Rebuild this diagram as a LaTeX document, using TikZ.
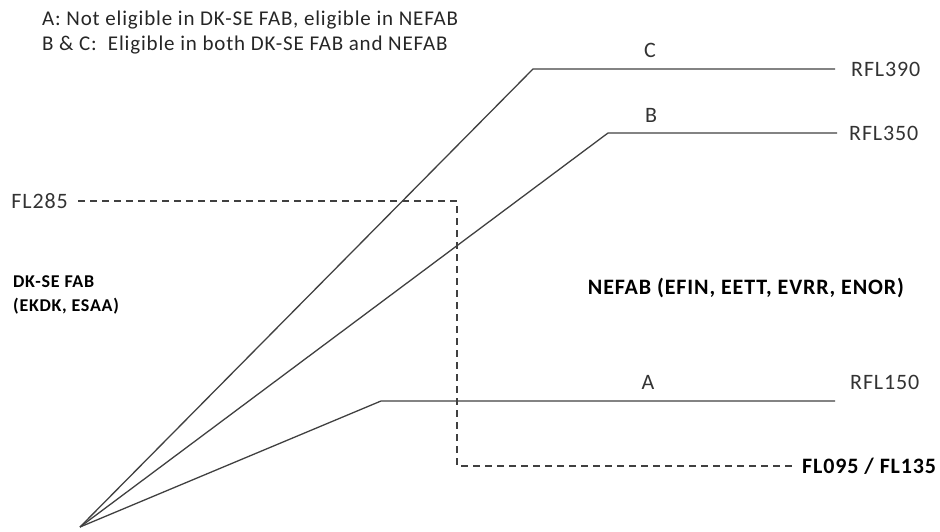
\documentclass[tikz,border=0pt]{standalone}
\usepackage{fontspec}
\setmainfont{Carlito}[LetterSpace=4]
\usetikzlibrary{positioning}

\tikzset{
    route/.style={draw=black!75, line width=1.3pt},
    level/.style={draw=black!75, line width=1.3pt, dash pattern=on 7pt off 5pt},
    lbl/.style={font=\fontsize{22}{26}\selectfont, text=black!80, inner sep=1pt},
    bold/.style={lbl, font=\fontsize{22}{26}\selectfont\bfseries, text=black}
}

\begin{document}
\begin{tikzpicture}[x=1pt, y=-1pt]
    % 1. Keret
    \useasboundingbox (0,0) rectangle (940,531);

    % 2. Pontok (kiindulás, töréspontok, végpontok)
    \coordinate (o) at (80,527);
    \coordinate (c-knee) at (533,69);
    \coordinate (c-end) at (835,69);
    \coordinate (b-knee) at (608,133);
    \coordinate (b-end) at (837,133);
    \coordinate (a-knee) at (381,401);
    \coordinate (a-end) at (835,401);
    \coordinate (fl-start) at (78,201);
    \coordinate (fl-turn) at (457,201);
    \coordinate (fl-low) at (457,466);
    \coordinate (fl-end) at (795,466);

    % 3. Útvonalak
    \draw[route] (o) -- (c-knee) -- (c-end);
    \draw[route] (o) -- (b-knee) -- (b-end);
    \draw[route] (o) -- (a-knee) -- (a-end);
    \draw[level] (fl-start) -- (fl-turn) -- (fl-low) -- (fl-end);

    % 4. Feliratok
    \node[lbl, anchor=west, font=\fontsize{21}{25}\selectfont, text=black!85] (legend-a) at (41,20) {A: Not eligible in DK-SE FAB, eligible in NEFAB};
    \node[lbl, anchor=west, font=\fontsize{21}{25}\selectfont, text=black!85] (legend-bc) at (41,45) {B \& C:\ \ Eligible in both DK-SE FAB and NEFAB};
    \node[lbl] (c-name) at (650,50) {C};
    \node[lbl] (b-name) at (651,115) {B};
    \node[lbl] (a-name) at (648,382) {A};
    \node[lbl, right=15pt of c-end] (rfl390) {RFL390};
    \node[lbl, right=11pt of b-end] (rfl350) {RFL350};
    \node[lbl, right=14pt of a-end, yshift=19pt] (rfl150) {RFL150};
    \node[lbl, left=9pt of fl-start] (fl285) {FL285};
    \node[bold, right=6pt of fl-end] (fl095) {FL095 / FL135};
    \node[bold, anchor=west, align=left, font=\fontsize{18}{24}\selectfont\bfseries] (dkse) at (12,295) {DK-SE FAB\\(EKDK, ESAA)};
    \node[bold] (nefab) at (746,288) {NEFAB (EFIN, EETT, EVRR, ENOR)};
\end{tikzpicture}
\end{document}
